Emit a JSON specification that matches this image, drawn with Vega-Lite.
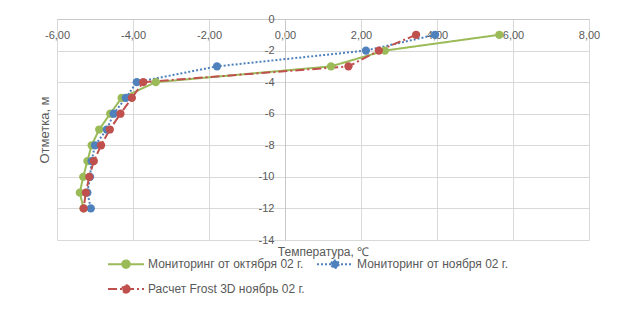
{
  "$schema": "https://vega.github.io/schema/vega-lite/v6.json",
  "width": 532,
  "height": 221,
  "autosize": {"type": "none"},
  "padding": {"left": 57, "top": 19, "right": 35, "bottom": 70},
  "background": "white",
  "config": {
    "view": {"stroke": null},
    "font": "Liberation Sans",
    "axis": {
      "gridColor": "#d9d9d9",
      "gridWidth": 1,
      "domainColor": "#c8c8c8",
      "ticks": false,
      "labelColor": "#595959",
      "labelFontSize": 11,
      "titleColor": "#595959",
      "titleFontSize": 12,
      "titleFontWeight": "normal"
    }
  },
  "data": {
    "values": [
      {"series": "Мониторинг от октября 02 г.", "depth": -1, "temp": 5.64},
      {"series": "Мониторинг от октября 02 г.", "depth": -2, "temp": 2.63},
      {"series": "Мониторинг от октября 02 г.", "depth": -3, "temp": 1.21},
      {"series": "Мониторинг от октября 02 г.", "depth": -4, "temp": -3.40},
      {"series": "Мониторинг от октября 02 г.", "depth": -5, "temp": -4.30},
      {"series": "Мониторинг от октября 02 г.", "depth": -6, "temp": -4.60},
      {"series": "Мониторинг от октября 02 г.", "depth": -7, "temp": -4.89},
      {"series": "Мониторинг от октября 02 г.", "depth": -8, "temp": -5.09},
      {"series": "Мониторинг от октября 02 г.", "depth": -9, "temp": -5.20},
      {"series": "Мониторинг от октября 02 г.", "depth": -10, "temp": -5.31},
      {"series": "Мониторинг от октября 02 г.", "depth": -11, "temp": -5.40},
      {"series": "Мониторинг от октября 02 г.", "depth": -12, "temp": -5.30},
      {"series": "Мониторинг от ноября 02 г.", "depth": -1, "temp": 3.95},
      {"series": "Мониторинг от ноября 02 г.", "depth": -2, "temp": 2.13},
      {"series": "Мониторинг от ноября 02 г.", "depth": -3, "temp": -1.79},
      {"series": "Мониторинг от ноября 02 г.", "depth": -4, "temp": -3.90},
      {"series": "Мониторинг от ноября 02 г.", "depth": -5, "temp": -4.19},
      {"series": "Мониторинг от ноября 02 г.", "depth": -6, "temp": -4.51},
      {"series": "Мониторинг от ноября 02 г.", "depth": -7, "temp": -4.69},
      {"series": "Мониторинг от ноября 02 г.", "depth": -8, "temp": -5.00},
      {"series": "Мониторинг от ноября 02 г.", "depth": -9, "temp": -5.09},
      {"series": "Мониторинг от ноября 02 г.", "depth": -10, "temp": -5.13},
      {"series": "Мониторинг от ноября 02 г.", "depth": -11, "temp": -5.20},
      {"series": "Мониторинг от ноября 02 г.", "depth": -12, "temp": -5.11},
      {"series": "Расчет Frost 3D ноябрь 02 г.", "depth": -1, "temp": 3.45},
      {"series": "Расчет Frost 3D ноябрь 02 г.", "depth": -2, "temp": 2.47},
      {"series": "Расчет Frost 3D ноябрь 02 г.", "depth": -3, "temp": 1.67},
      {"series": "Расчет Frost 3D ноябрь 02 г.", "depth": -4, "temp": -3.73},
      {"series": "Расчет Frost 3D ноябрь 02 г.", "depth": -5, "temp": -4.03},
      {"series": "Расчет Frost 3D ноябрь 02 г.", "depth": -6, "temp": -4.33},
      {"series": "Расчет Frost 3D ноябрь 02 г.", "depth": -7, "temp": -4.61},
      {"series": "Расчет Frost 3D ноябрь 02 г.", "depth": -8, "temp": -4.84},
      {"series": "Расчет Frost 3D ноябрь 02 г.", "depth": -9, "temp": -5.03},
      {"series": "Расчет Frost 3D ноябрь 02 г.", "depth": -10, "temp": -5.15},
      {"series": "Расчет Frost 3D ноябрь 02 г.", "depth": -11, "temp": -5.24},
      {"series": "Расчет Frost 3D ноябрь 02 г.", "depth": -12, "temp": -5.30}
    ]
  },
  "mark": {
    "type": "line",
    "strokeWidth": 2,
    "point": {"filled": true, "size": 68, "opacity": 1}
  },
  "encoding": {
    "x": {
      "field": "temp",
      "type": "quantitative",
      "scale": {"domain": [-6, 8], "nice": false, "zero": false},
      "axis": {
        "orient": "bottom",
        "offset": -221,
        "values": [-6, -4, -2, 0, 2, 4, 6, 8],
        "labelExpr": "replace(replace(format(datum.value, '.2f'), '.', ','), '\u2212', '-')",
        "labelPadding": 10,
        "labelFlush": false,
        "labelOverlap": false,
        "title": "Температура,  ℃",
        "titleY": 227,
        "titleBaseline": "top"
      }
    },
    "y": {
      "field": "depth",
      "type": "quantitative",
      "scale": {"domain": [-14, 0], "nice": false, "zero": false},
      "axis": {
        "orient": "left",
        "offset": -228,
        "values": [0, -2, -4, -6, -8, -10, -12, -14],
        "labelExpr": "'' + datum.value",
        "labelPadding": 11,
        "labelFlush": false,
        "labelOverlap": false,
        "title": "Отметка, м",
        "titleX": -234,
        "titleFontSize": 13
      }
    },
    "order": {"field": "depth", "sort": "descending"},
    "color": {
      "field": "series",
      "type": "nominal",
      "scale": {
        "domain": ["Мониторинг от октября 02 г.", "Мониторинг от ноября 02 г.", "Расчет Frost 3D ноябрь 02 г."],
        "range": ["#9BBB59", "#4F81BD", "#C0504D"]
      },
      "legend": {
        "orient": "none",
        "legendX": 63,
        "legendY": 239,
        "direction": "horizontal",
        "columns": 2,
        "title": null,
        "padding": 0,
        "symbolType": "M-3.6,0L3.6,0M0.75,0A0.75,0.75,0,1,1,-0.75,0A0.75,0.75,0,1,1,0.75,0Z",
        "symbolSize": 100,
        "symbolStrokeWidth": 2,
        "labelOffset": 16,
        "labelFontSize": 12,
        "labelColor": "#595959",
        "labelLimit": 300,
        "rowPadding": 9,
        "columnPadding": 8,
        "encode": {"symbols": {"update": {"fill": {"scale": "color", "field": "value"}, "fillOpacity": {"value": 1}}}}
      }
    },
    "strokeDash": {
      "field": "series",
      "type": "nominal",
      "scale": {
        "domain": ["Мониторинг от октября 02 г.", "Мониторинг от ноября 02 г.", "Расчет Frost 3D ноябрь 02 г."],
        "range": [[1, 0], [2, 2], [9, 3, 2, 3]]
      },
      "legend": {
        "orient": "none",
        "legendX": 63,
        "legendY": 239,
        "direction": "horizontal",
        "columns": 2,
        "title": null,
        "padding": 0,
        "symbolType": "M-3.6,0L3.6,0M0.75,0A0.75,0.75,0,1,1,-0.75,0A0.75,0.75,0,1,1,0.75,0Z",
        "symbolSize": 100,
        "symbolStrokeWidth": 2,
        "labelOffset": 16,
        "labelFontSize": 12,
        "labelColor": "#595959",
        "labelLimit": 300,
        "rowPadding": 9,
        "columnPadding": 8,
        "encode": {"symbols": {"update": {"fill": {"scale": "color", "field": "value"}, "fillOpacity": {"value": 1}}}}
      }
    }
  }
}
